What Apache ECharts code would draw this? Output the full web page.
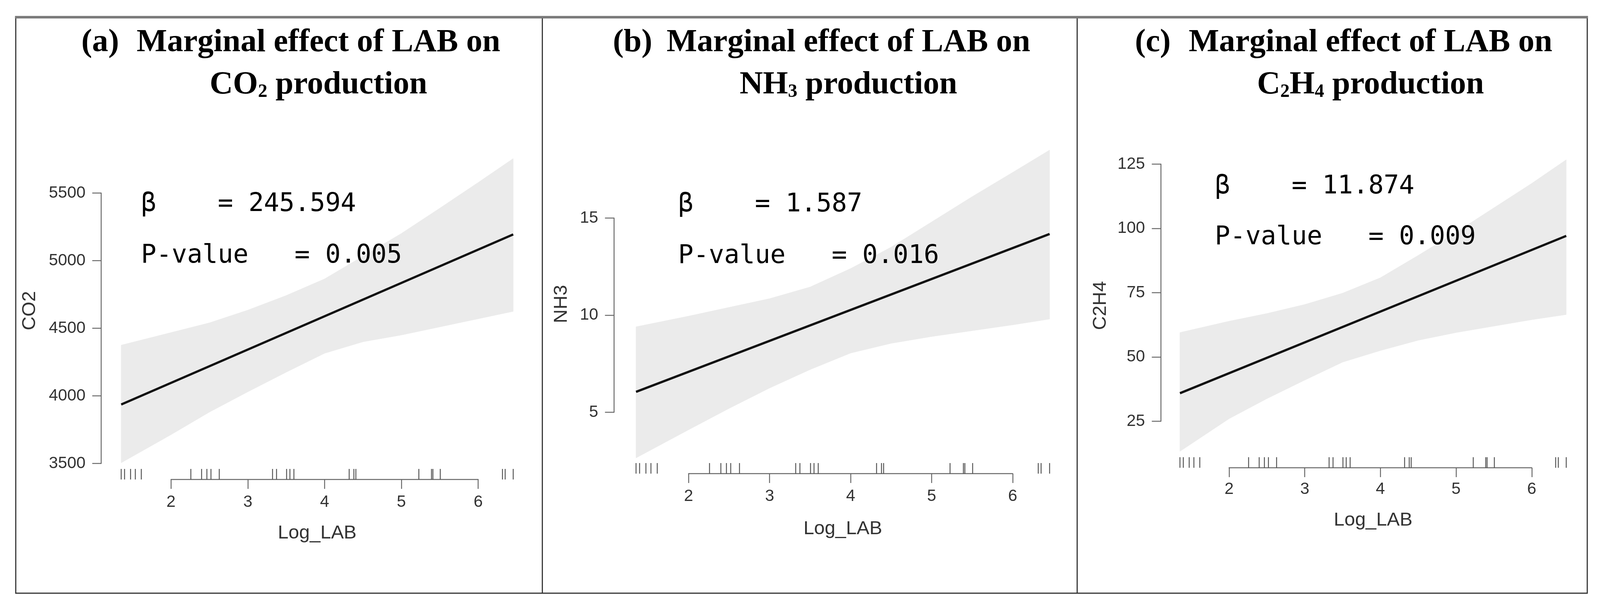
<!DOCTYPE html>
<html>
<head>
<meta charset="utf-8">
<script src="https://cdn.jsdelivr.net/npm/echarts@6/dist/echarts.min.js"></script>
<style>html,body{margin:0;padding:0;background:#fff;overflow:hidden}#c{width:100vw;height:100vh}</style>
</head>
<body>
<div id="c"></div>
<script>
// ---------------- data ----------------
const logLAB = [1.351,1.395,1.473,1.535,1.613,2.258,2.398,2.467,2.520,2.628,3.322,3.374,3.505,3.548,3.600,4.320,4.381,4.407,5.227,5.392,5.410,5.506,6.316,6.351,6.456];
const bandX = [1.351,2,2.5,3,3.5,4,4.5,5,5.5,6,6.456];

const co2Upper = [4375,4468,4540,4634,4742,4865,5033,5201,5388,5578,5755];
const co2Lower = [3505,3713,3880,4030,4175,4315,4400,4450,4510,4570,4625];
const co2Fit = [[1.351,3936],[6.456,5194]];
const co2Ticks = [3500,4000,4500,5000,5500];

const nh3Upper = [9.4,9.95,10.4,10.85,11.45,12.4,13.5,14.8,16.1,17.35,18.5];
const nh3Lower = [2.65,4.1,5.2,6.25,7.2,8.05,8.55,8.9,9.2,9.5,9.8];
const nh3Fit = [[1.351,6.05],[6.456,14.18]];
const nh3Ticks = [5,10,15];

const c2h4Upper = [59.5,63.9,66.9,70.4,74.8,80.8,89.5,98.5,108,117.5,126.7];
const c2h4Lower = [13.3,26.0,33.8,41.0,48.0,52.5,56.5,59.5,62.0,64.5,66.5];
const c2h4Fit = [[1.351,35.9],[6.456,97.1]];
const c2h4Ticks = [25,50,75,100,125];

const xTicks = [2,3,4,5,6];

const panelLetters = ['(a)','(b)','(c)'];
const titleLine1 = 'Marginal effect of LAB on';
const titleLine2 = ['{m|CO}{s|2}{m| production}','{m|NH}{s|3}{m| production}','{m|C}{s|2}{m|H}{s|4}{m| production}'];
const yNames = ['CO2','NH3','C2H4'];
const xName = 'Log_LAB';
const betas = ['245.594','1.587','11.874'];
const pValues = ['0.005','0.016','0.009'];

// ---------------- layout (design pixels at 4266 x 1561) ----------------
const layout = [
  {left:270, bottom:1227, px2:456, px6:1275, pyLo:1186, pyHi:494, gapY:165, gapX:113, marginX:37, annX:376, annY:[523,655], cx:849, lx:217},
  {left:1637, bottom:1212, px2:1836, px6:2700, pyLo:1055, pyHi:558, gapY:114, gapX:117, marginX:37, annX:1808, annY:[524,656], cx:2262, lx:1634},
  {left:3095, bottom:1197, px2:3277, px6:4084, pyLo:1078, pyHi:420, gapY:135, gapX:110, marginX:34, annX:3239, annY:[478,608], cx:3654, lx:3026}
];

const panels = [
  {upper:co2Upper, lower:co2Lower, fit:co2Fit, ticks:co2Ticks},
  {upper:nh3Upper, lower:nh3Lower, fit:nh3Fit, ticks:nh3Ticks},
  {upper:c2h4Upper, lower:c2h4Lower, fit:c2h4Fit, ticks:c2h4Ticks}
];

const el = document.getElementById('c');
const W = el.clientWidth || window.innerWidth || 4266;
const H = el.clientHeight || window.innerHeight || 1561;
const kx = W / 4266, ky = H / 1561;
const X = v => v * kx;   // horizontal design px -> screen px
const Y = v => v * ky;   // vertical design px -> screen px
const F = v => v * kx;   // font sizes

const axisColor = '#666';
const labelColor = '#333';
const sansFont = 'Liberation Sans';

const grid = [], xAxis = [], yAxis = [], series = [], graphic = [];

panels.forEach((p, i) => {
  const L = layout[i];
  const lo = p.ticks[0], hi = p.ticks[p.ticks.length - 1];
  const yInterval = p.ticks[1] - p.ticks[0];
  const sx = (L.px6 - L.px2) / (xTicks[xTicks.length-1] - xTicks[0]);
  const xc = (logLAB[0] + logLAB[logLAB.length-1]) / 2;
  const xMin = xTicks[0] - (L.px2 - L.left) / sx;
  const xMax = 2 * xc - xMin;
  const sy = (L.pyLo - L.pyHi) / (hi - lo);
  const yMin = lo - (L.bottom - L.pyLo) / sy;
  const yMax = Math.min(...p.lower) + Math.max(...p.upper) - yMin;
  const top = L.pyHi - (yMax - hi) * sy;

  const dg = grid.length;
  // data grid (plot region)
  grid.push({left:X(L.left), top:Y(top), width:X((xMax - xMin) * sx), height:Y(L.bottom - top), outerBoundsMode:'none', containLabel:false});
  xAxis.push({type:'value', gridIndex:dg, min:xMin, max:xMax, axisLine:{show:false}, axisTick:{show:false}, axisLabel:{show:false}, splitLine:{show:false},
    name:xName, nameLocation:'middle', nameGap:Y(L.gapX), nameTextStyle:{fontSize:F(51), color:labelColor, fontFamily:sansFont}});
  yAxis.push({type:'value', gridIndex:dg, min:yMin, max:yMax, axisLine:{show:false}, axisTick:{show:false}, axisLabel:{show:false}, splitLine:{show:false},
    name:yNames[i], nameLocation:'middle', nameRotate:90, nameGap:X(L.gapY), nameTextStyle:{fontSize:F(51), color:labelColor, fontFamily:sansFont}});

  const ag = grid.length;
  // axis grid (tick range only, R-style axes)
  grid.push({left:X(L.px2), top:Y(L.pyHi), width:X(L.px6 - L.px2), height:Y(L.pyLo - L.pyHi), outerBoundsMode:'none', containLabel:false});
  xAxis.push({type:'value', gridIndex:ag, min:xTicks[0], max:xTicks[xTicks.length-1], interval:1, offset:Y(L.bottom - L.pyLo),
    axisLine:{show:true, lineStyle:{color:axisColor, width:F(2.5)}},
    axisTick:{show:true, inside:false, length:Y(24), lineStyle:{color:axisColor, width:F(2.5)}},
    axisLabel:{show:true, margin:Y(L.marginX), fontSize:F(44), color:labelColor, fontFamily:sansFont, formatter: v => String(v)},
    splitLine:{show:false}});
  yAxis.push({type:'value', gridIndex:ag, min:lo, max:hi, interval:yInterval, offset:X(L.px2 - L.left),
    axisLine:{show:true, lineStyle:{color:axisColor, width:F(2.5)}},
    axisTick:{show:true, inside:false, length:X(24), lineStyle:{color:axisColor, width:F(2.5)}},
    axisLabel:{show:true, margin:X(42), fontSize:F(44), color:labelColor, fontFamily:sansFont, formatter: v => String(v)},
    splitLine:{show:false}});

  // confidence band
  const up = p.upper, lw = p.lower;
  series.push({
    type:'custom', xAxisIndex:dg, yAxisIndex:dg, silent:true, z:1,
    data: bandX.map((x, j) => [x, lw[j], up[j]]),
    encode:{x:0, y:[1,2]},
    renderItem: function (params, api) {
      if (params.dataIndex !== 0) return null;
      const pts = [];
      for (let j = 0; j < bandX.length; j++) pts.push(api.coord([bandX[j], up[j]]));
      for (let j = bandX.length - 1; j >= 0; j--) pts.push(api.coord([bandX[j], lw[j]]));
      return {type:'polygon', shape:{points:pts}, style:{fill:'#ebebeb', stroke:'#ebebeb', lineWidth:1}};
    }
  });
  // fitted line
  series.push({type:'line', xAxisIndex:dg, yAxisIndex:dg, data:p.fit, symbol:'none', silent:true, z:3,
    lineStyle:{color:'#111', width:F(6)}});
  // rug
  series.push({
    type:'custom', xAxisIndex:dg, yAxisIndex:dg, silent:true, z:2,
    data: logLAB.map(v => [v]),
    encode:{x:0},
    renderItem: function (params, api) {
      const x = api.coord([api.value(0), yMin])[0];
      const cs = params.coordSys;
      const yb = cs.y + cs.height;
      return {type:'line', shape:{x1:x, y1:yb, x2:x, y2:yb - Y(27)}, style:{stroke:'#555', lineWidth:F(2.5)}};
    }
  });

  // titles
  const tFont = 'bold ' + F(86) + 'px "Liberation Serif"';
  graphic.push({type:'text', z:10, style:{text:panelLetters[i], x:X(L.lx), y:Y(110), font:tFont, fill:'#000', align:'left', verticalAlign:'middle', textAlign:'left', textVerticalAlign:'middle'}});
  graphic.push({type:'text', z:10, style:{text:titleLine1, x:X(L.cx), y:Y(110), font:tFont, fill:'#000', align:'center', verticalAlign:'middle', textAlign:'center', textVerticalAlign:'middle'}});
  graphic.push({type:'text', z:10, style:{text:titleLine2[i], x:X(L.cx), y:Y(218), align:'center', verticalAlign:'middle', textAlign:'center', textVerticalAlign:'middle',
    rich:{
      m:{fontSize:F(86), fontFamily:'Liberation Serif', fontWeight:'bold', fill:'#000', verticalAlign:'bottom'},
      s:{fontSize:F(50), fontFamily:'Liberation Serif', fontWeight:'bold', fill:'#000', verticalAlign:'bottom'}
    }}});
  // annotations
  const aFont = F(68) + 'px "DejaVu Sans Mono"';
  graphic.push({type:'text', z:10, style:{text:'β    = ' + betas[i], x:X(L.annX), y:Y(L.annY[0]), font:aFont, fill:'#000', align:'left', verticalAlign:'middle', textAlign:'left', textVerticalAlign:'middle'}});
  graphic.push({type:'text', z:10, style:{text:'P-value   = ' + pValues[i], x:X(L.annX), y:Y(L.annY[1]), font:aFont, fill:'#000', align:'left', verticalAlign:'middle', textAlign:'left', textVerticalAlign:'middle'}});
});

// frame
graphic.push({type:'rect', z:5, shape:{x:X(42), y:Y(44), width:X(4190), height:Y(1474)}, style:{fill:'none', stroke:'#333', lineWidth:F(3)}});
graphic.push({type:'line', z:6, shape:{x1:X(40), y1:Y(44), x2:X(4234), y2:Y(44)}, style:{stroke:'#7a7a7a', lineWidth:F(7)}});
graphic.push({type:'line', z:5, shape:{x1:X(1446), y1:Y(44), x2:X(1446), y2:Y(1518)}, style:{stroke:'#333', lineWidth:F(3)}});
graphic.push({type:'line', z:5, shape:{x1:X(2872), y1:Y(44), x2:X(2872), y2:Y(1518)}, style:{stroke:'#333', lineWidth:F(3)}});

const chart = echarts.init(el, null, {renderer:'canvas'});
chart.setOption({
  animation:false,
  backgroundColor:'#fff',
  grid, xAxis, yAxis, series, graphic
});
</script>
</body>
</html>
